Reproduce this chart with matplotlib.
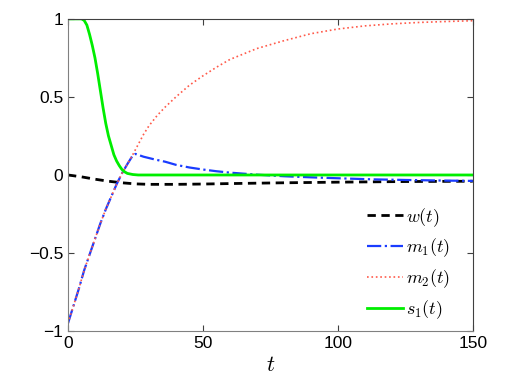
import matplotlib
matplotlib.use('Agg')
import matplotlib.pyplot as plt

plt.rcParams['font.family'] = ['Liberation Sans', 'DejaVu Sans']
plt.rcParams['mathtext.fontset'] = 'cm'

# values
t_w = [0, 5, 10, 15, 20, 25, 30, 40, 50, 60, 80, 100, 125, 150]
w = [0.0, -0.012, -0.027, -0.04, -0.05, -0.057, -0.06, -0.06, -0.058, -0.055, -0.05, -0.046, -0.042, -0.04]

t_m1 = [0, 2, 4, 6, 8, 10, 12, 14, 16, 18, 20, 22, 24, 25, 28, 32, 36, 40, 45, 50, 55, 60, 70, 80, 90, 100, 113, 125, 140, 150]
m1 = [-0.95, -0.84, -0.73, -0.61, -0.51, -0.41, -0.31, -0.22, -0.14, -0.06, 0.01, 0.07, 0.125, 0.135, 0.117, 0.1, 0.085, 0.065,
      0.048, 0.035, 0.024, 0.015, 0.002, -0.008, -0.015, -0.021, -0.028, -0.032, -0.036, -0.038]

t_m2 = [0, 2, 4, 6, 8, 10, 12, 14, 16, 18, 20, 22, 24, 26, 28, 30, 33, 36, 40, 45, 50, 55, 60, 65, 70, 80, 90, 100, 110, 120, 130, 140, 150]
m2 = [-0.95, -0.84, -0.73, -0.61, -0.51, -0.41, -0.31, -0.22, -0.14, -0.06, 0.01, 0.07, 0.13, 0.195, 0.26, 0.315, 0.38, 0.435,
      0.5, 0.575, 0.635, 0.69, 0.74, 0.775, 0.81, 0.86, 0.905, 0.935, 0.955, 0.968, 0.977, 0.983, 0.988]

t_s1 = [0, 2, 4, 5, 6, 7, 8, 9, 10, 11, 12, 13, 14, 15, 16, 17, 18, 19, 20, 21, 22, 24, 26, 30, 150]
s1 = [1, 1, 1, 1, 0.99, 0.96, 0.9, 0.83, 0.75, 0.65, 0.54, 0.43, 0.33, 0.25, 0.19, 0.13, 0.09, 0.06, 0.035, 0.02, 0.01,
      0.003, 0.0, 0.0, 0.0]


def main():
    fig = plt.figure(figsize=(5.23, 3.85), dpi=100)
    ax = fig.add_axes([0.130, 0.140, 0.774, 0.811])

    ax.plot(t_w, w, '--', color='black', lw=2, dashes=(3, 2), label=r'$w(t)$')
    ax.plot(t_m1, m1, '-.', color='#1a3cff', lw=1.6, label=r'$m_1(t)$')
    ax.plot(t_m2, m2, ':', color='#ff5a4a', lw=1.2, label=r'$m_2(t)$')
    ax.plot(t_s1, s1, '-', color='#00ee00', lw=2, label=r'$s_1(t)$')

    ax.set_xlim(0, 150)
    ax.set_ylim(-1, 1)
    ax.set_xticks([0, 50, 100, 150])
    ax.set_yticks([-1, -0.5, 0, 0.5, 1])
    ax.set_yticklabels(['\u22121', '\u22120.5', '0', '0.5', '1'])
    ax.tick_params(direction='in', top=True, right=True, length=4, labelsize=12.5, color='#404040')
    for side in ['left', 'bottom']:
        ax.spines[side].set_color('#808080')
    for side in ['top', 'right']:
        ax.spines[side].set_color('#404040')
    ax.set_xlabel(r'$t$', fontsize=16, labelpad=3)

    ax.legend(loc='lower right', bbox_to_anchor=(0.985, -0.02), frameon=False, fontsize=13,
              handlelength=2.0, handletextpad=0.2, labelspacing=0.45)

    fig.savefig('out.png', dpi=100)


if __name__ == '__main__':
    main()
